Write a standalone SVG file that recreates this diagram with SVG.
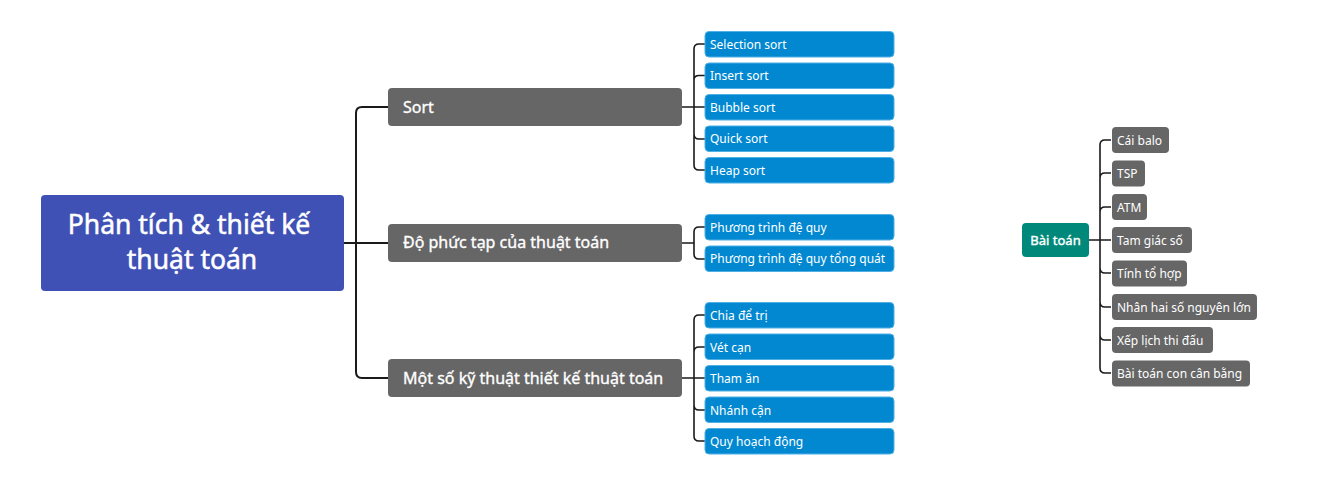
<svg xmlns="http://www.w3.org/2000/svg" width="1321" height="490" viewBox="0 0 1321 490">
<style>
.bg{fill:#ffffff}
.root{fill:#3f51b5}
.main{fill:#666666}
.leaf{fill:#0288d1;stroke:#4fb0e6;stroke-width:1}
.topic{fill:#00897b}
.sub{fill:#666666}
.t{font-family:"Noto Sans","Open Sans",sans-serif;fill:#ffffff}
.tr{font-size:26.5px;text-anchor:middle;stroke:#ffffff;stroke-width:0.5}
.tm{font-size:16px;stroke:#ffffff;stroke-width:0.35}
.tl{font-size:12px}
.tb{font-size:13px;text-anchor:middle;stroke:#ffffff;stroke-width:0.4}
.ts{font-size:12px}
.c{fill:none;stroke:#1a1a1a;stroke-width:2}
.c2{fill:none;stroke:#1a1a1a;stroke-width:1.6}
</style>
<rect class="bg" x="0" y="0" width="1321" height="490"/>
<g id="connectors">
<path class="c" d="M344,243 H356 M388,107 H362 Q356,107 356,113 V372 Q356,378 362,378 H388 M356,243 H388"/>
<path class="c2" d="M682,107 H705 M705,44 H699 Q694,44 694,49 V165 Q694,170 699,170 H705 M694,80 Q694,75.5 699,75.5 H705 M694,134 Q694,139 699,139 H705"/>
<path class="c2" d="M682,243 H694 M705,227 H699 Q694,227 694,232 V254 Q694,259 699,259 H705"/>
<path class="c2" d="M682,378 H705 M705,315 H699 Q694,315 694,320 V436 Q694,441 699,441 H705 M694,352 Q694,347 699,347 H705 M694,405 Q694,410 699,410 H705"/>
<path class="c2" d="M1089,240 H1111 M1111,140 H1105 Q1100,140 1100,145 V368 Q1100,373 1105,373 H1111 M1100,178 Q1100,173 1105,173 H1111 M1100,212 Q1100,207 1105,207 H1111 M1100,268 Q1100,273 1105,273 H1111 M1100,302 Q1100,307 1105,307 H1111 M1100,335 Q1100,340 1105,340 H1111"/>
</g>
<g id="root">
<rect class="root" x="41" y="195" width="303" height="96" rx="4"/>
<text class="t tr" x="189" y="234">Phân tích &amp; thiết kế</text>
<text class="t tr" x="192" y="269">thuật toán</text>
</g>
<g id="sort">
<rect class="main" x="388" y="88" width="294" height="38" rx="4"/>
<text class="t tm" x="403" y="113">Sort</text>
</g>
<g id="dophuctap">
<rect class="main" x="388" y="224" width="294" height="38" rx="4"/>
<text class="t tm" x="403" y="248">Độ phức tạp của thuật toán</text>
</g>
<g id="motso">
<rect class="main" x="388" y="359" width="294" height="38" rx="4"/>
<text class="t tm" x="403" y="384">Một số kỹ thuật thiết kế thuật toán</text>
</g>
<g id="selection"><rect class="leaf" x="705" y="31.5" width="189" height="25.5" rx="4"/><text class="t tl" x="710" y="49">Selection sort</text></g>
<g id="insert"><rect class="leaf" x="705" y="63" width="189" height="25.5" rx="4"/><text class="t tl" x="710" y="80">Insert sort</text></g>
<g id="bubble"><rect class="leaf" x="705" y="94.5" width="189" height="25.5" rx="4"/><text class="t tl" x="710" y="112">Bubble sort</text></g>
<g id="quick"><rect class="leaf" x="705" y="126" width="189" height="25.5" rx="4"/><text class="t tl" x="710" y="143">Quick sort</text></g>
<g id="heap"><rect class="leaf" x="705" y="157.5" width="189" height="25.5" rx="4"/><text class="t tl" x="710" y="175">Heap sort</text></g>
<g id="ptdq"><rect class="leaf" x="705" y="214.5" width="189" height="25.5" rx="4"/><text class="t tl" x="710" y="232">Phương trình đệ quy</text></g>
<g id="ptdqtq"><rect class="leaf" x="705" y="246" width="189" height="25.5" rx="4"/><text class="t tl" x="710" y="263">Phương trình đệ quy tổng quát</text></g>
<g id="chiadetri"><rect class="leaf" x="705" y="302.5" width="189" height="25.5" rx="4"/><text class="t tl" x="710" y="320">Chia để trị</text></g>
<g id="vetcan"><rect class="leaf" x="705" y="334" width="189" height="25.5" rx="4"/><text class="t tl" x="710" y="352">Vét cạn</text></g>
<g id="thaman"><rect class="leaf" x="705" y="365.5" width="189" height="25.5" rx="4"/><text class="t tl" x="710" y="383">Tham ăn</text></g>
<g id="nhanhcan"><rect class="leaf" x="705" y="397" width="189" height="25.5" rx="4"/><text class="t tl" x="710" y="415">Nhánh cận</text></g>
<g id="quyhoach"><rect class="leaf" x="705" y="428.5" width="189" height="25.5" rx="4"/><text class="t tl" x="710" y="446">Quy hoạch động</text></g>
<g id="baitoan">
<rect class="topic" x="1022" y="223" width="67" height="34" rx="4"/>
<text class="t tb" x="1055.5" y="245">Bài toán</text>
</g>
<g id="caibalo"><rect class="sub" x="1112" y="127" width="57" height="26" rx="4"/><text class="t ts" x="1117" y="145">Cái balo</text></g>
<g id="tsp"><rect class="sub" x="1112" y="160.5" width="33" height="26" rx="4"/><text class="t ts" x="1117" y="178">TSP</text></g>
<g id="atm"><rect class="sub" x="1112" y="194" width="35" height="26" rx="4"/><text class="t ts" x="1117" y="212">ATM</text></g>
<g id="tamgiacso"><rect class="sub" x="1112" y="227" width="80" height="26" rx="4"/><text class="t ts" x="1117" y="245">Tam giác số</text></g>
<g id="tinhtohop"><rect class="sub" x="1112" y="260.5" width="75" height="26" rx="4"/><text class="t ts" x="1117" y="278">Tính tổ hợp</text></g>
<g id="nhanhaiso"><rect class="sub" x="1112" y="294" width="145" height="26" rx="4"/><text class="t ts" x="1117" y="312">Nhân hai số nguyên lớn</text></g>
<g id="xeplich"><rect class="sub" x="1112" y="327" width="101" height="26" rx="4"/><text class="t ts" x="1117" y="345">Xếp lịch thi đấu</text></g>
<g id="baitoancon"><rect class="sub" x="1112" y="360.5" width="138" height="26" rx="4"/><text class="t ts" x="1117" y="378">Bài toán con cân bằng</text></g>
</svg>
